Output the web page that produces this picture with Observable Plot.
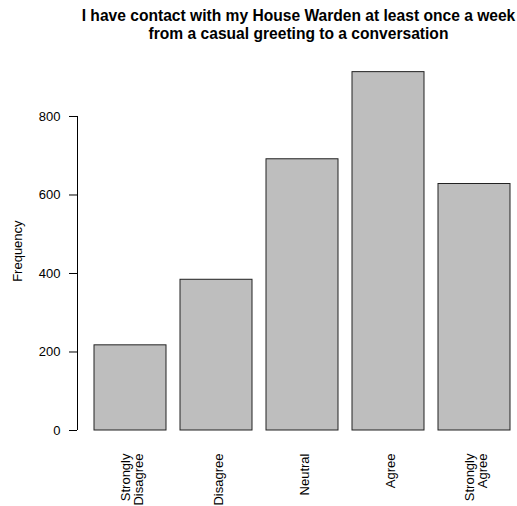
<!DOCTYPE html>
<html>
<head>
<meta charset="utf-8">
<script src="https://cdn.jsdelivr.net/npm/d3@7"></script>
<script src="https://cdn.jsdelivr.net/npm/@observablehq/plot@0.6"></script>
<style>
  html, body { margin: 0; padding: 0; background: #fff; }
  #wrap { position: relative; width: 517px; height: 506px; overflow: hidden; font-family: "Liberation Sans", Arial, Helvetica, sans-serif; }
  #title { position: absolute; left: 298.5px; top: 6.5px; transform: translateX(-50%); white-space: nowrap; text-align: center; font-weight: bold; font-size: 15.6px; line-height: 18px; color: #000; z-index: 2; }
  #chart { position: absolute; left: 0; top: 0; }
</style>
</head>
<body>
<div id="wrap">
  <div id="title">I have contact with my House Warden at least once a week<br>from a casual greeting to a conversation</div>
  <div id="chart"></div>
</div>
<script>
const categories = ["Strongly\nDisagree", "Disagree", "Neutral", "Agree", "Strongly\nAgree"];
const frequencies = [217, 384, 691, 913, 628];
const yTicks = [0, 200, 400, 600, 800];
const yLabel = "Frequency";

const data = categories.map((c, i) => ({category: c, frequency: frequencies[i]}));
const yMax = d3.max(frequencies) * 1.04;

const axisLine = (index, scales, values, dimensions) => {
  const g = d3.create("svg:g");
  g.append("line")
    .attr("x1", dimensions.marginLeft + 0.5)
    .attr("x2", dimensions.marginLeft + 0.5)
    .attr("y1", scales.y(yTicks[0]))
    .attr("y2", scales.y(yTicks[yTicks.length - 1]))
    .attr("stroke", "#000")
    .attr("stroke-width", 1);
  return g.node();
};

const chart = Plot.plot({
  width: 517,
  height: 506,
  marginLeft: 77,
  marginRight: 0,
  marginTop: 57.3,
  marginBottom: 76,
  style: {fontFamily: '"Liberation Sans", Arial, Helvetica, sans-serif', fontSize: "13px", color: "#000", background: "#fff"},
  x: {domain: categories, paddingInner: 1/6, paddingOuter: 0.1413, align: 0.70, axis: null},
  y: {domain: [0, yMax], axis: null},
  marks: [
    Plot.barY(data, {x: "category", y: "frequency", fill: "#bebebe", stroke: "#222", strokeWidth: 1}),
    Plot.axisY({ticks: yTicks, tickSize: 8, tickPadding: 9, tickFormat: d => String(d), fontSize: 13, label: null, stroke: "#000"}),
    axisLine,
    Plot.text(categories, {x: d => d, frameAnchor: "bottom", rotate: -90, textAnchor: "end", lineAnchor: "middle", dy: 23, dx: 2, fontSize: 13, lineHeight: 1, fill: "#000"}),
    Plot.text([yLabel], {frameAnchor: "left", rotate: -90, textAnchor: "middle", lineAnchor: "middle", dx: -60, dy: 7, fontSize: 13, fill: "#000"})
  ]
});
document.getElementById("chart").appendChild(chart);
</script>
</body>
</html>
